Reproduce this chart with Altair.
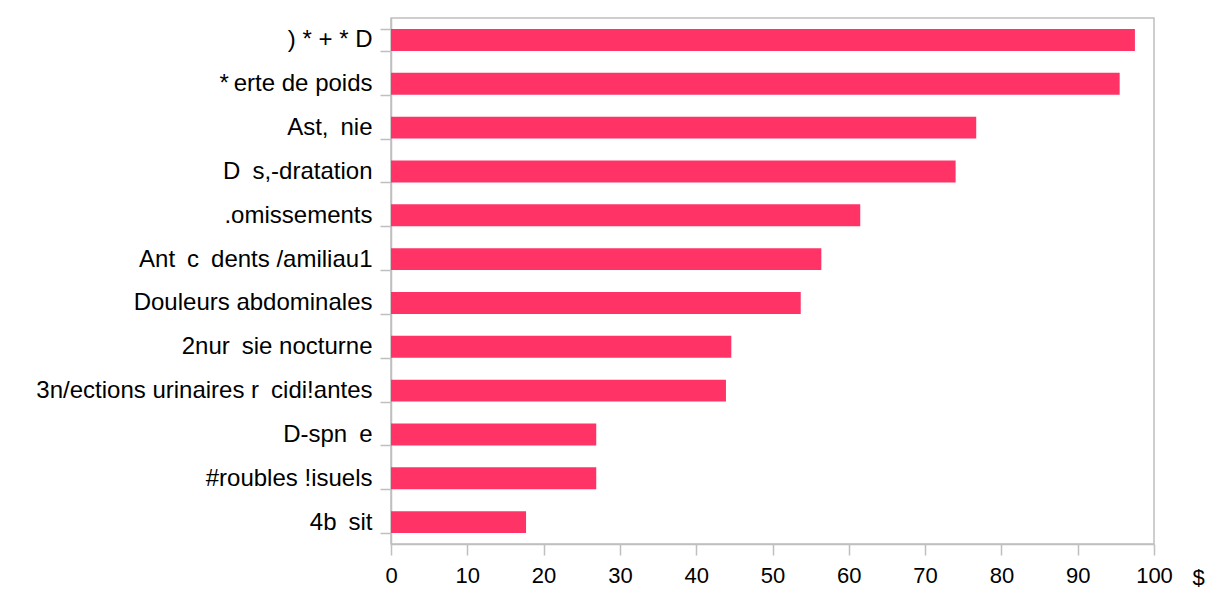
import altair as alt
import pandas as pd

categories = [
    ") * + * D",
    "*\u2009erte de poids",
    "Ast,\u2002nie",
    "D\u2002s,-dratation",
    ".omissements",
    "Ant\u2002c\u2002dents /amiliau1",
    "Douleurs abdominales",
    "2nur\u2002sie nocturne",
    "3n/ections urinaires r\u2002cidi!antes",
    "D-spn\u2002e",
    "#roubles !isuels",
    "4b\u2002sit\u2002",
]
values = [97.5, 95.5, 76.7, 74.0, 61.5, 56.4, 53.7, 44.6, 43.9, 26.9, 26.9, 17.7]
x_ticks = [0, 10, 20, 30, 40, 50, 60, 70, 80, 90, 100]
x_title = "$"

df = pd.DataFrame({"cat": categories, "val": values})

GREY = "#bfbfbf"
FONT = "Liberation Sans"

chart = (
    alt.Chart(df)
    .mark_bar(color="#ff3366")
    .encode(
        x=alt.X(
            "val:Q",
            scale=alt.Scale(domain=[0, 100], nice=False, zero=True),
            axis=alt.Axis(
                values=x_ticks,
                grid=False,
                title=x_title,
                titleX=807,
                titleY=33,
                titleAngle=0,
                titleAlign="center",
                titleBaseline="middle",
                titleFont=FONT,
                titleFontSize=22,
                titleFontWeight="normal",
                titleColor="black",
                tickSize=11,
                tickColor=GREY,
                tickWidth=1.5,
                domainColor=GREY,
                domainWidth=1.5,
                labelFont=FONT,
                labelFontSize=22,
                labelColor="black",
                labelPadding=10,
                labelFlush=False,
            ),
        ),
        y=alt.Y(
            "cat:N",
            sort=categories,
            scale=alt.Scale(paddingInner=0.5, paddingOuter=0.25),
            axis=alt.Axis(
                title=None,
                grid=False,
                tickBand="extent",
                tickSize=11,
                tickColor=GREY,
                tickWidth=1.5,
                domainColor=GREY,
                domainWidth=1.5,
                labelFont=FONT,
                labelFontSize=24,
                labelColor="black",
                labelPadding=8,
                labelLimit=0,
            ),
        ),
    )
    .properties(
        width=763,
        height=526,
        autosize=alt.AutoSizeParams(type="none"),
        padding={"left": 383, "top": 10, "right": 52, "bottom": 44},
    )
    .configure_view(stroke=GREY, strokeWidth=1.5)
)

chart.save("out.html", embed_options={"renderer": "svg", "actions": False})
